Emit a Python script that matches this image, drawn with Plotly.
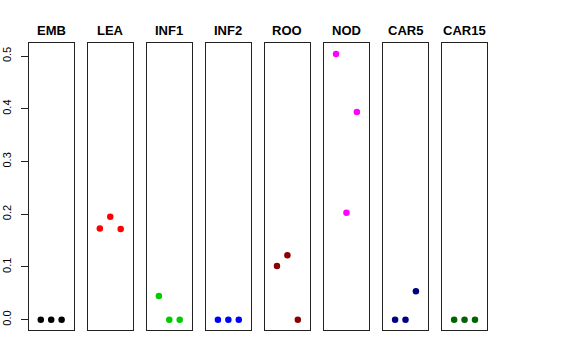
import plotly.graph_objects as go

tissues = ["EMB", "LEA", "INF1", "INF2", "ROO", "NOD", "CAR5", "CAR15"]
colors = ["#000000", "#FF0000", "#00CD00", "#0000FF", "#8B0000", "#FF00FF", "#000080", "#006400"]
replicates = [1, 2, 3]
EMB = [0.0, 0.0, 0.0]
LEA = [0.173, 0.195, 0.172]
INF1 = [0.045, 0.0, 0.0]
INF2 = [0.0, 0.0, 0.0]
ROO = [0.102, 0.122, 0.0]
NOD = [0.504, 0.203, 0.394]
CAR5 = [0.0, 0.0, 0.054]
CAR15 = [0.0, 0.0, 0.0]
values = [EMB, LEA, INF1, INF2, ROO, NOD, CAR5, CAR15]
y_ticks = [0.0, 0.1, 0.2, 0.3, 0.4, 0.5]

W, H = 576, 360
left0, step, pw = 28.7, 59.05, 45.0
top, bottom = 43.3, 330.3
ydom = [(H - bottom) / H, (H - top) / H]

fig = go.Figure()
layout = dict(
    width=W, height=H, margin=dict(l=0, r=0, t=0, b=0),
    paper_bgcolor="white", plot_bgcolor="white", showlegend=False,
    font=dict(family="Liberation Sans, Arial, sans-serif", color="black"),
)
annotations = []
for i, (name, col, vals) in enumerate(zip(tissues, colors, values)):
    sfx = "" if i == 0 else str(i + 1)
    fig.add_trace(go.Scatter(
        x=replicates, y=vals, mode="markers",
        marker=dict(color=col, size=6.5, line=dict(width=0)),
        xaxis="x" + sfx, yaxis="y" + sfx, hoverinfo="skip",
    ))
    x0 = (left0 + step * i) / W
    x1 = (left0 + step * i + pw) / W
    layout["xaxis" + sfx] = dict(
        domain=[x0, x1], range=[-0.16, 4.16], anchor="y" + sfx,
        showticklabels=False, ticks="", showgrid=False, zeroline=False,
        showline=True, linecolor="#222", linewidth=1, mirror=True,
    )
    ya = dict(
        domain=ydom, range=[-0.0202, 0.5242], anchor="x" + sfx,
        showgrid=False, zeroline=False,
        showline=True, linecolor="#222", linewidth=1, mirror=True,
    )
    if i == 0:
        ya.update(tickvals=y_ticks, ticktext=[f"{v:.1f}" for v in y_ticks],
                  ticks="outside", ticklen=7, tickcolor="#222", tickwidth=1,
                  tickangle=-90, tickfont=dict(size=11), ticklabelstandoff=5)
    else:
        ya.update(showticklabels=False, ticks="")
    layout["yaxis" + sfx] = ya
    annotations.append(dict(
        text="<b>" + name + "</b>", x=(x0 + x1) / 2, y=(H - 39.5) / H,
        xref="paper", yref="paper", xanchor="center", yanchor="bottom",
        showarrow=False, font=dict(size=13, color="black"),
    ))
layout["annotations"] = annotations
fig.update_layout(**layout)
fig.write_html("out.html", config={"displayModeBar": False},
               post_script="document.body.style.margin='0';")
